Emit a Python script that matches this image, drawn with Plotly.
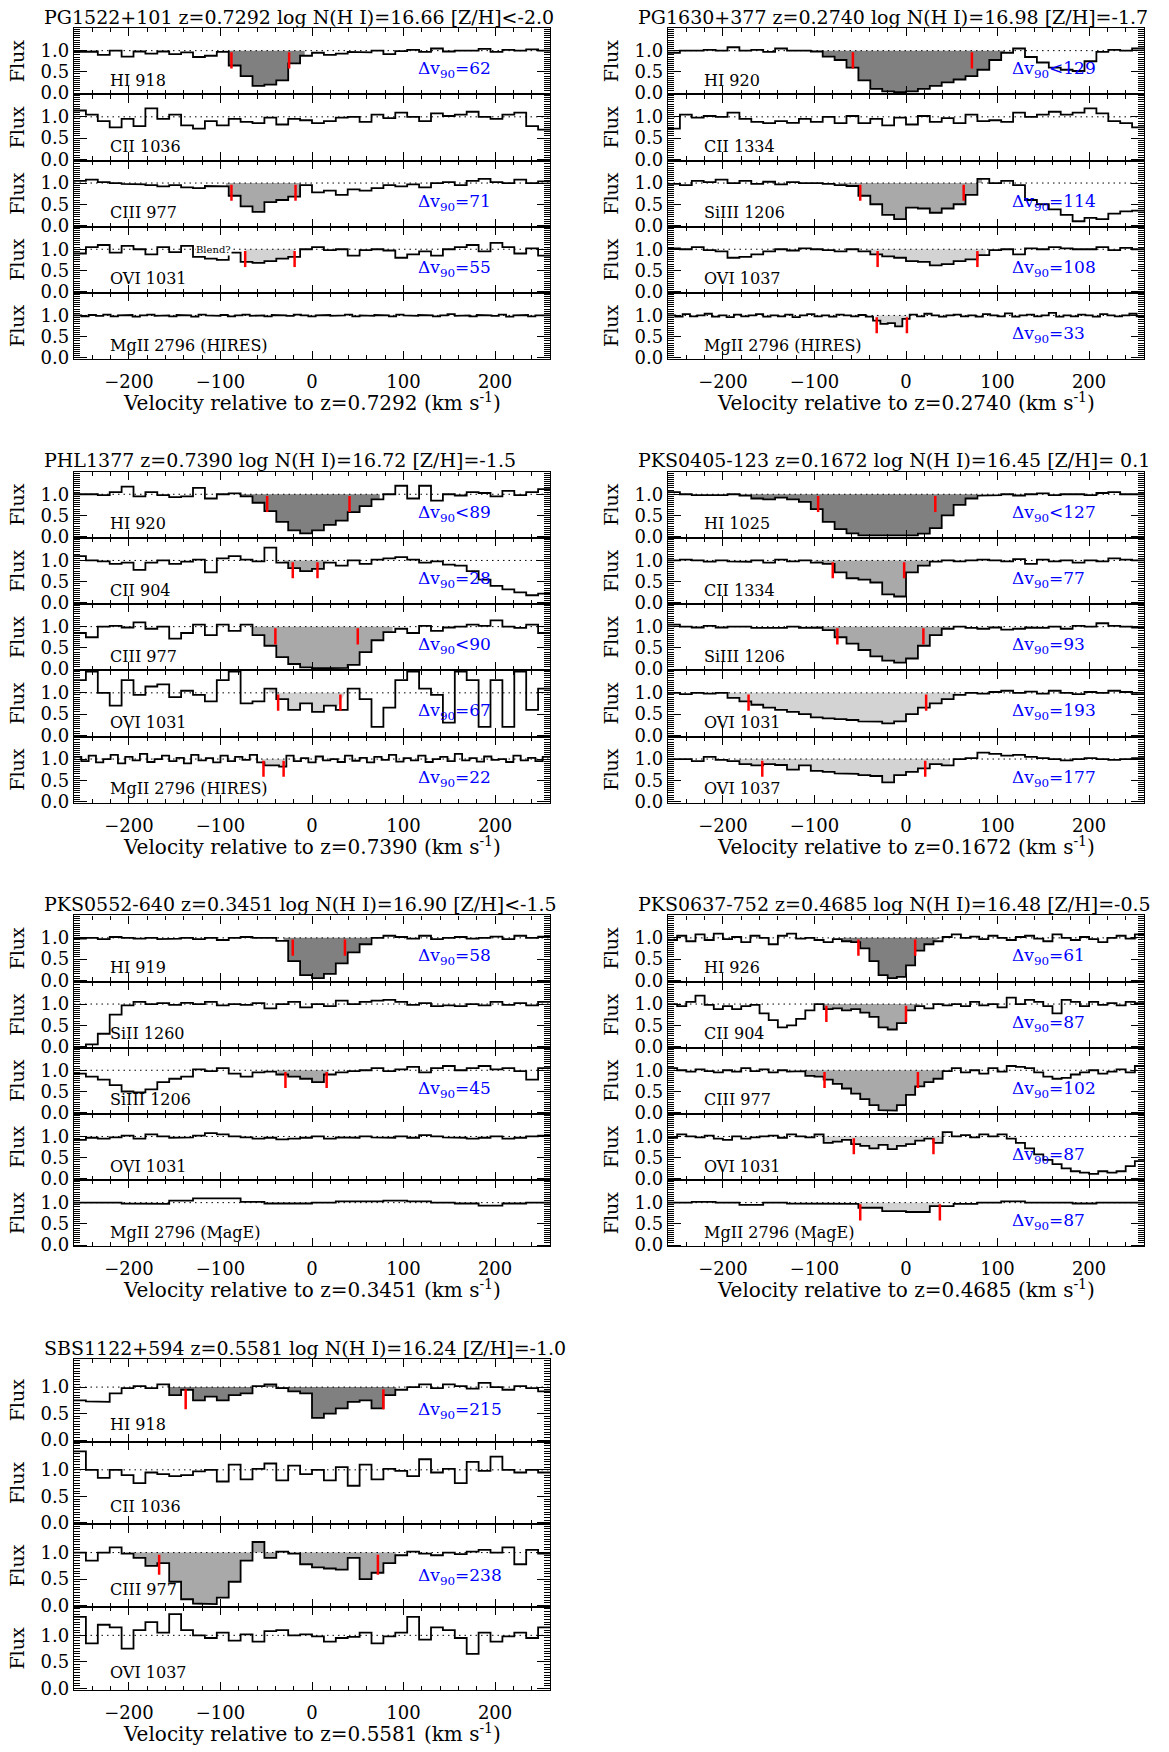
## velocity plots of the metal lines for the 7 LLS
import numpy as np
import plotly.graph_objects as go

### DATA (normalized flux, bins spread evenly over -260..260 km/s)

# PG1522+101
pg1522_hi918 = [0.97, 0.98, 0.9, 1.0, 0.86, 0.98, 0.93, 0.98, 0.92, 0.96, 0.85, 0.88,
                0.97, 0.65, 0.4, 0.17, 0.2, 0.3, 0.7, 0.88, 0.95,
                0.9, 0.93, 0.97, 0.96, 1.0, 0.92, 0.99, 1.02, 0.97, 1.05, 0.98, 1.0, 1.0, 1.04, 0.97, 1.02, 1.0, 1.03, 1.0]
pg1522_cii1036 = [1.15, 1.05, 0.9, 0.75, 0.95, 0.78, 1.2, 0.95, 1.05, 0.8, 0.72, 0.9, 0.8, 0.95, 0.88, 0.85, 0.98, 0.82, 0.95, 0.92,
                  0.85, 0.9, 0.98, 1.0, 0.88, 1.05, 0.97, 1.1, 1.0, 0.9, 1.08, 1.02, 1.05, 1.12, 1.0, 0.95, 1.05, 1.1, 0.78, 0.7]
pg1522_ciii977 = [1.05, 1.08, 1.02, 1.0, 0.98, 0.97, 0.95, 0.92, 0.95, 0.9, 0.88, 0.93,
                  0.92, 0.7, 0.45, 0.32, 0.55, 0.6, 0.68, 0.95, 0.78, 0.82, 0.72, 0.85, 0.82, 0.88, 0.95, 0.92, 0.97, 0.9,
                  1.0, 1.02, 0.95, 1.05, 1.1, 1.02, 1.0, 1.08, 1.0, 1.04]
pg1522_ovi1031 = [0.9, 1.05, 1.1, 0.92, 1.08, 1.0, 0.88, 1.05, 0.93, 1.08, 0.82, 0.78,
                  0.75, 0.92, 0.7, 0.68, 0.72, 0.78, 0.82, 1.0,
                  1.05, 0.98, 1.0, 0.85, 0.98, 1.0, 0.97, 0.8, 0.88, 0.95, 0.85, 1.0, 1.05, 1.1, 0.95, 1.15, 1.05, 0.9, 1.02, 0.85]
pg1522_mgii2796 = [1.0, 0.98, 1.01, 0.99, 1.02, 0.98, 1.0, 1.01, 0.97, 1.0,
                   1.02, 0.99, 1.0, 0.98, 1.01, 1.0, 0.97, 1.02, 1.0, 0.99,
                   1.01, 0.98, 1.0, 1.02, 0.99, 1.0, 0.98, 1.01, 1.0, 0.99,
                   1.02, 1.0, 0.98, 1.0, 1.01, 0.99, 1.0, 1.02, 0.98, 1.0,
                   0.99, 1.01, 1.0, 0.98, 1.02, 1.0, 0.99, 1.01, 1.0, 0.98,
                   1.0, 1.03, 0.99, 1.0, 0.98, 1.01, 1.0, 0.99, 1.02, 0.97,
                   1.0, 1.01, 0.98, 1.0, 1.0]
pg1522_labels = ["HI 918", "CII 1036", "CIII 977", "OVI 1031", "MgII 2796 (HIRES)"]
pg1522_windows = [[-97, -8], None, [-94, -12], [-73, -19], None]
pg1522_ticks = [[-88, -25], [], [-88, -18], [-73, -19], []]
pg1522_dv = ["=62", "", "=71", "=55", ""]

# PG1630+377
pg1630_hi920 = [0.95, 1.0, 1.0, 1.02, 1.0, 1.08, 1.0, 1.02, 0.97, 1.05, 1.0, 1.0,
                0.98, 0.86, 0.78, 0.6, 0.3, 0.1, 0.04, 0.02, 0.04, 0.1, 0.17, 0.25, 0.32, 0.4, 0.55, 0.78, 0.95, 1.05,
                0.85, 0.72, 0.6, 0.55, 0.52, 0.75, 0.97, 1.02, 1.0, 1.05]
pg1630_cii1334 = [0.72, 1.05, 0.98, 1.02, 1.0, 1.1, 0.95, 0.88, 0.85, 0.9, 0.86, 0.95, 0.88, 1.0, 0.85, 1.02, 0.85, 0.95, 0.8, 0.98,
                  0.82, 1.02, 0.88, 0.97, 0.85, 1.05, 0.9, 0.92, 0.88, 1.1, 1.0, 1.05, 1.12, 1.05, 1.1, 1.2, 1.08, 0.9, 0.85, 0.75]
pg1630_siiii1206 = [0.98, 0.95, 1.05, 1.02, 1.08, 1.0, 1.05, 0.98, 1.03, 0.97, 1.02, 1.0,
                    1.0, 0.98, 0.95, 0.93, 0.7, 0.5, 0.25, 0.15, 0.42, 0.4, 0.3, 0.4, 0.5, 0.72, 1.1, 1.0, 1.05, 0.95,
                    0.6, 0.5, 0.38, 0.25, 0.1, 0.18, 0.15, 0.28, 0.33, 0.35]
pg1630_ovi1037 = [1.02, 1.0, 1.05, 0.98, 0.95, 0.8, 0.82, 0.88, 0.95, 1.0, 0.97, 1.02,
                  1.0, 0.98, 0.95, 1.0, 0.95, 0.88, 0.83, 0.8, 0.72, 0.7, 0.62, 0.65, 0.72, 0.76, 0.86, 0.98, 1.0, 0.88,
                  1.02, 1.0, 1.05, 1.02, 1.0, 1.0, 1.05, 0.98, 1.03, 1.0]
pg1630_mgii2796 = [1.0, 0.97, 1.03, 0.98, 1.0, 1.04, 0.97, 1.0, 0.96, 1.02,
                   0.98, 1.0, 1.03, 0.97, 1.0, 0.98, 1.02, 0.96, 1.0, 1.03,
                   0.98, 1.0, 0.97, 1.02, 1.0, 0.98, 1.01, 0.97, 0.88, 0.8,
                   0.82, 0.74, 0.92, 1.02, 0.98, 1.04, 1.0, 0.97, 1.0, 1.02,
                   0.98, 1.0, 0.97, 1.03, 1.0, 0.98, 1.05, 0.97, 1.0, 1.02,
                   0.98, 1.0, 1.06, 0.97, 1.0, 0.98, 1.02, 1.0, 0.97, 1.03,
                   1.0, 0.98, 1.0, 1.04, 0.98]
pg1630_labels = ["HI 920", "CII 1334", "SiIII 1206", "OVI 1037", "MgII 2796 (HIRES)"]
pg1630_windows = [[-93, 108], None, [-73, 83], [-44, 87], [-33, 2]]
pg1630_ticks = [[-58, 72], [], [-50, 63], [-31, 78], [-32, 1]]
pg1630_dv = ["&lt;129", "", "=114", "=108", "=33"]

# PHL1377
phl1377_hi920 = [1.0, 1.0, 0.98, 1.05, 1.18, 0.95, 1.05, 0.98, 0.93, 0.95,
                 1.15, 0.9, 1.0, 1.02, 0.95, 0.8, 0.6, 0.35, 0.15, 0.08,
                 0.15, 0.28, 0.38, 0.58, 0.72, 0.88, 1.0, 1.2, 0.9, 1.2,
                 0.85, 1.0, 0.97, 1.05, 1.03, 0.95, 1.08, 0.98, 1.05, 1.12]
phl1377_cii904 = [1.1, 1.0, 0.98, 0.92, 0.95, 0.78, 0.95, 1.0, 0.92, 0.97,
                  1.02, 0.72, 1.05, 1.1, 1.02, 0.98, 1.3, 0.95, 0.82, 0.75,
                  0.8, 0.95, 0.88, 1.0, 0.92, 1.02, 1.05, 1.08, 1.02, 0.95,
                  0.98, 0.9, 0.88, 0.75, 0.55, 0.4, 0.32, 0.25, 0.18, 0.22]
phl1377_ciii977 = [0.85, 0.75, 1.0, 1.02, 0.98, 1.1, 0.95, 1.0, 0.72, 0.85,
                   1.05, 0.8, 1.05, 0.9, 1.05, 0.8, 0.55, 0.28, 0.12, 0.04,
                   0.02, 0.02, 0.03, 0.1, 0.4, 0.68, 0.87, 0.95, 0.85, 1.02,
                   0.9, 0.98, 1.0, 1.05, 1.02, 1.15, 1.0, 0.97, 1.05, 0.85]
phl1377_ovi1031 = [1.3, 1.5, 1.0, 0.7, 1.3, 0.95, 1.15, 1.2, 0.9, 1.05,
                   0.95, 0.8, 1.3, 1.5, 0.75, 0.8, 1.1, 0.85, 0.6, 0.75,
                   0.55, 0.7, 0.6, 1.1, 0.85, 0.2, 0.65, 1.3, 1.5, 1.1,
                   0.95, 0.3, 1.5, 1.3, 0.2, 1.3, 0.2, 1.5, 0.6, 1.1]
phl1377_mgii2796 = [1.05, 0.95, 1.08, 0.92, 1.0, 1.1, 0.9, 1.05, 0.97, 1.12,
                    0.93, 1.0, 1.08, 0.95, 1.03, 0.9, 1.1, 0.97, 1.02, 0.92,
                    1.08, 0.95, 1.05, 0.98, 1.1, 0.92, 0.85, 0.85, 0.82, 1.08,
                    0.95, 1.02, 0.92, 1.06, 0.97, 1.0, 0.93, 1.08, 0.96, 1.03,
                    0.92, 1.05, 0.98, 1.1, 0.94, 1.02, 0.97, 1.08, 0.93, 1.0,
                    1.05, 0.95, 1.12, 0.97, 1.02, 0.94, 1.06, 0.98, 1.0, 0.93,
                    1.08, 0.97, 1.03, 0.95, 1.05]
phl1377_labels = ["HI 920", "CII 904", "CIII 977", "OVI 1031", "MgII 2796 (HIRES)"]
phl1377_windows = [[-81, 74], [-31, 16], [-64, 88], [-47, 39], [-55, -30]]
phl1377_ticks = [[-49, 41], [-21, 6], [-40, 50], [-37, 31], [-53, -31]]
phl1377_dv = ["&lt;89", "=28", "&lt;90", "=67", "=22"]

# PKS0405-123
pks0405_hi1025 = [1.05, 1.0, 0.98, 0.97, 0.98, 1.0, 0.97, 0.9, 0.88, 0.92,
                  0.88, 0.82, 0.65, 0.35, 0.18, 0.08, 0.03, 0.02, 0.02, 0.02,
                  0.03, 0.07, 0.2, 0.5, 0.75, 0.9, 0.97, 0.98, 1.0, 0.97,
                  1.0, 1.02, 0.98, 1.0, 1.0, 0.98, 1.03, 1.05, 1.0, 1.0]
pks0405_cii1334 = [1.0, 1.02, 1.0, 0.97, 1.0, 0.98, 0.97, 1.0, 0.95, 1.02, 0.98, 1.0,
                   0.95, 0.92, 0.72, 0.58, 0.55, 0.48, 0.2, 0.15, 0.72, 0.88, 0.97, 1.0,
                   0.98, 1.0, 1.02, 1.0, 0.98, 1.03, 0.92, 1.02, 0.98, 1.0, 0.95, 1.0, 0.98, 1.05, 1.02, 1.0]
pks0405_siiii1206 = [1.05, 1.0, 0.98, 1.02, 0.98, 1.0, 1.0, 0.97, 0.98, 0.97, 1.0, 0.97,
                     0.98, 0.92, 0.75, 0.6, 0.45, 0.3, 0.2, 0.15, 0.25, 0.55, 0.8, 0.95,
                     1.0, 0.97, 0.95, 0.98, 0.93, 0.95, 0.98, 0.97, 1.0, 0.95, 1.02, 1.0, 1.08, 1.02, 1.0, 0.98]
pks0405_ovi1031 = [1.0, 0.97, 1.0, 0.98, 1.0, 0.88, 0.8, 0.72, 0.65, 0.6,
                   0.55, 0.5, 0.42, 0.4, 0.38, 0.36, 0.33, 0.32, 0.28, 0.33,
                   0.5, 0.65, 0.75, 0.85, 0.95, 1.0, 0.98, 1.02, 1.05, 1.0,
                   1.03, 0.98, 1.05, 1.0, 0.97, 1.02, 1.0, 1.05, 1.02, 0.97]
pks0405_ovi1037 = [1.0, 1.0, 0.95, 1.05, 0.98, 0.95, 0.88, 0.85, 0.88, 0.86,
                   0.75, 0.85, 0.72, 0.7, 0.66, 0.65, 0.62, 0.6, 0.45, 0.62,
                   0.7, 0.78, 0.88, 0.85, 1.0, 1.02, 1.15, 1.12, 1.08, 1.1,
                   1.05, 1.02, 1.0, 0.97, 1.0, 1.02, 1.0, 0.98, 1.0, 1.02]
pks0405_labels = ["HI 1025", "CII 1334", "SiIII 1206", "OVI 1031", "OVI 1037"]
pks0405_windows = [[-168, 77], [-100, 30], [-90, 48], [-198, 58], [-186, 48]]
pks0405_ticks = [[-96, 32], [-80, -2], [-75, 19], [-172, 22], [-157, 21]]
pks0405_dv = ["&lt;127", "=77", "=93", "=193", "=177"]

# PKS0552-640
pks0552_hi919 = [0.98, 1.0, 0.97, 1.02, 1.0, 0.98, 1.0, 0.97, 0.98, 1.0,
                 0.97, 1.0, 0.95, 1.0, 1.02, 1.0, 1.0, 0.93, 0.45, 0.12,
                 0.05, 0.15, 0.4, 0.66, 0.85, 1.0, 1.05, 1.02, 0.98, 1.05,
                 0.97, 1.0, 1.02, 0.98, 1.0, 1.03, 0.97, 1.05, 1.0, 1.03]
pks0552_siii1260 = [-0.02, 0.05, 0.3, 0.75, 0.97, 1.05, 1.0, 1.02, 0.98, 1.03,
                    1.0, 1.05, 0.97, 1.0, 0.98, 1.02, 0.9, 1.0, 1.05, 0.92,
                    1.0, 0.95, 1.08, 1.0, 1.05, 1.08, 1.1, 1.05, 0.98, 1.02,
                    0.95, 0.97, 0.95, 1.0, 0.97, 1.05, 0.98, 1.02, 0.97, 1.05]
pks0552_siiii1206 = [0.92, 0.85, 0.78, 0.65, 0.5, 0.48, 0.55, 0.72, 0.8, 0.85,
                     1.02, 0.98, 1.05, 0.92, 0.85, 0.95, 0.97, 0.9, 0.85, 0.8,
                     0.72, 0.9, 0.95, 0.98, 1.0, 1.05, 0.98, 1.02, 1.08, 0.95,
                     1.05, 1.1, 1.0, 1.05, 1.1, 1.02, 1.05, 0.98, 0.78, 1.05]
pks0552_ovi1031 = [0.92, 0.97, 0.95, 0.98, 1.02, 0.95, 1.05, 1.0, 0.97, 0.98,
                   1.02, 1.08, 1.05, 1.0, 0.98, 0.95, 0.97, 0.93, 0.95, 0.97,
                   1.0, 0.95, 0.98, 0.97, 1.0, 0.98, 0.97, 1.0, 0.97, 1.03,
                   1.0, 0.98, 0.97, 0.95, 0.97, 1.0, 0.95, 0.97, 1.0, 1.02]
pks0552_mgii2796 = [1.0, 1.0, 0.98, 0.97, 1.05, 1.1, 1.1, 1.02, 0.98, 0.98,
                    1.0, 1.03, 1.03, 1.05, 1.03, 1.0, 0.98, 0.93, 0.98, 1.0]
pks0552_labels = ["HI 919", "SiII 1260", "SiIII 1206", "OVI 1031", "MgII 2796 (MagE)"]
pks0552_windows = [[-31, 64], None, [-37, 18], None, None]
pks0552_ticks = [[-21, 36], [], [-29, 16], [], []]
pks0552_dv = ["=58", "", "=45", "", ""]

# PKS0637-752
pks0637_hi926 = [0.95, 1.05, 0.92, 1.08, 0.95, 1.1, 0.97, 1.02, 0.9, 1.05,
                 1.0, 0.85, 1.05, 1.1, 0.98, 1.0, 0.95, 0.9, 0.97, 0.92,
                 0.9, 0.75, 0.45, 0.12, 0.05, 0.08, 0.35, 0.7, 0.85, 0.92,
                 1.02, 1.08, 1.0, 1.03, 0.97, 1.05, 1.0, 0.95, 1.02, 1.05,
                 0.98, 0.92, 1.08, 1.0, 0.95, 1.02, 0.97, 0.9, 1.0, 1.05,
                 0.98, 1.08]
pks0637_cii904 = [1.0, 0.95, 1.05, 1.2, 0.98, 0.88, 0.95, 0.88, 0.95, 0.98,
                  0.78, 0.62, 0.45, 0.5, 0.65, 0.85, 1.0, 0.88, 0.9, 0.85,
                  0.88, 0.8, 0.7, 0.45, 0.4, 0.55, 0.85, 0.95, 0.9, 1.0,
                  0.97, 1.0, 0.95, 1.05, 0.97, 1.0, 0.92, 1.15, 1.0, 1.1,
                  1.05, 0.95, 0.78, 1.1, 1.05, 0.95, 1.05, 0.98, 1.02, 0.97,
                  1.05, 1.02]
pks0637_ciii977 = [1.05, 1.0, 0.97, 1.02, 0.98, 0.95, 1.0, 0.97, 1.05, 0.98,
                   1.02, 0.95, 1.0, 0.97, 0.98, 0.87, 0.85, 0.78, 0.68, 0.57,
                   0.45, 0.32, 0.18, 0.06, 0.05, 0.18, 0.42, 0.62, 0.72, 0.8,
                   0.98, 1.05, 0.95, 1.0, 0.92, 1.05, 0.97, 1.1, 1.08, 1.05,
                   0.95, 0.85, 0.8, 0.82, 0.9, 0.95, 1.0, 0.92, 0.97, 1.02,
                   0.95, 1.1]
pks0637_ovi1031 = [0.97, 1.05, 1.0, 0.98, 1.02, 0.95, 0.92, 1.0, 0.95, 0.98,
                   1.0, 1.02, 0.97, 1.05, 1.0, 0.98, 1.05, 0.85, 0.88, 0.92,
                   0.82, 0.78, 0.72, 0.8, 0.7, 0.78, 0.82, 0.9, 0.95, 0.85,
                   1.1, 1.0, 1.03, 0.98, 1.05, 1.0, 1.05, 0.95, 0.85, 0.72,
                   0.58, 0.45, 0.35, 0.25, 0.18, 0.15, 0.12, 0.18, 0.15, 0.18,
                   0.3, 0.42]
pks0637_mgii2796 = [1.0, 1.02, 1.0, 0.95, 1.0, 0.98, 0.97, 0.97, 0.88, 0.8,
                    0.78, 0.92, 0.97, 1.0, 1.03, 1.0, 1.0, 0.98, 1.0, 1.0]
pks0637_labels = ["HI 926", "CII 904", "CIII 977", "OVI 1031", "MgII 2796 (MagE)"]
pks0637_windows = [[-69, 40], [-93, 15], [-110, 42], [-106, 44], [-52, 38]]
pks0637_ticks = [[-52, 10], [-87, 0], [-89, 13], [-57, 30], [-50, 37]]
pks0637_dv = ["=61", "=87", "=102", "=87", "=87"]

# SBS1122+594
sbs1122_hi918 = [0.75, 0.73, 0.72, 0.88, 0.98, 1.02, 0.98, 1.05, 0.85, 0.95,
                 0.75, 0.82, 0.75, 0.85, 0.88, 1.02, 1.05, 0.98, 0.92, 0.88,
                 0.42, 0.5, 0.6, 0.72, 0.75, 0.6, 0.85, 0.95, 1.0, 1.05,
                 0.98, 1.05, 1.02, 0.97, 1.08, 1.0, 0.95, 1.02, 0.98, 0.92]
sbs1122_cii1036 = [1.35, 1.0, 0.85, 1.0, 0.9, 0.75, 0.95, 0.92, 0.88, 0.9,
                   0.97, 1.0, 0.78, 1.1, 0.82, 1.02, 1.12, 0.8, 1.08, 0.92,
                   1.0, 0.8, 1.05, 0.7, 1.1, 0.82, 1.02, 0.98, 0.88, 1.2,
                   0.95, 1.02, 0.75, 1.15, 0.98, 1.25, 1.0, 0.95, 1.0, 0.95]
sbs1122_ciii977 = [1.0, 0.85, 1.0, 1.1, 0.98, 0.9, 0.75, 0.8, 0.45, 0.12,
                   0.04, 0.03, 0.15, 0.45, 0.85, 1.2, 0.9, 1.02, 0.98, 0.78,
                   0.72, 0.7, 0.68, 0.9, 0.5, 0.62, 0.8, 0.95, 1.02, 0.98,
                   0.95, 1.0, 0.97, 1.02, 1.05, 1.0, 1.1, 0.78, 1.05, 0.98]
sbs1122_ovi1037 = [1.35, 0.85, 1.2, 1.15, 0.75, 1.1, 1.25, 1.05, 1.4, 1.1,
                   1.0, 0.95, 1.05, 0.9, 1.02, 0.88, 1.08, 1.1, 1.0, 1.02,
                   0.98, 0.88, 0.95, 0.97, 1.05, 0.85, 0.98, 1.05, 1.35, 0.92,
                   1.15, 1.1, 0.95, 0.65, 1.05, 0.88, 0.98, 1.05, 0.95, 1.15]
sbs1122_labels = ["HI 918", "CII 1036", "CIII 977", "OVI 1037"]
sbs1122_windows = [[-158, 92], None, [-203, 92], None]
sbs1122_ticks = [[-138, 78], [], [-167, 72], []]
sbs1122_dv = ["=215", "", "=238", ""]

panels = [
    dict(name="PG1522+101", z="0.7292", nhi="16.66", zh="&lt;-2.0", col=0, row=0,
         spectra=[pg1522_hi918, pg1522_cii1036, pg1522_ciii977, pg1522_ovi1031, pg1522_mgii2796],
         labels=pg1522_labels, windows=pg1522_windows, ticks=pg1522_ticks, dv=pg1522_dv),
    dict(name="PG1630+377", z="0.2740", nhi="16.98", zh="=-1.7", col=1, row=0,
         spectra=[pg1630_hi920, pg1630_cii1334, pg1630_siiii1206, pg1630_ovi1037, pg1630_mgii2796],
         labels=pg1630_labels, windows=pg1630_windows, ticks=pg1630_ticks, dv=pg1630_dv),
    dict(name="PHL1377", z="0.7390", nhi="16.72", zh="=-1.5", col=0, row=1,
         spectra=[phl1377_hi920, phl1377_cii904, phl1377_ciii977, phl1377_ovi1031, phl1377_mgii2796],
         labels=phl1377_labels, windows=phl1377_windows, ticks=phl1377_ticks, dv=phl1377_dv),
    dict(name="PKS0405-123", z="0.1672", nhi="16.45", zh="= 0.1", col=1, row=1,
         spectra=[pks0405_hi1025, pks0405_cii1334, pks0405_siiii1206, pks0405_ovi1031, pks0405_ovi1037],
         labels=pks0405_labels, windows=pks0405_windows, ticks=pks0405_ticks, dv=pks0405_dv),
    dict(name="PKS0552-640", z="0.3451", nhi="16.90", zh="&lt;-1.5", col=0, row=2,
         spectra=[pks0552_hi919, pks0552_siii1260, pks0552_siiii1206, pks0552_ovi1031, pks0552_mgii2796],
         labels=pks0552_labels, windows=pks0552_windows, ticks=pks0552_ticks, dv=pks0552_dv),
    dict(name="PKS0637-752", z="0.4685", nhi="16.48", zh="=-0.5", col=1, row=2,
         spectra=[pks0637_hi926, pks0637_cii904, pks0637_ciii977, pks0637_ovi1031, pks0637_mgii2796],
         labels=pks0637_labels, windows=pks0637_windows, ticks=pks0637_ticks, dv=pks0637_dv),
    dict(name="SBS1122+594", z="0.5581", nhi="16.24", zh="=-1.0", col=0, row=3,
         spectra=[sbs1122_hi918, sbs1122_cii1036, sbs1122_ciii977, sbs1122_ovi1037],
         labels=sbs1122_labels, windows=sbs1122_windows, ticks=sbs1122_ticks, dv=sbs1122_dv),
]

### layout (pixels of the 1169x1752 page)
W, H = 1169, 1752
VMIN, VMAX = -260, 260
YMIN, YMAX = -0.03, 1.53
FONT = "DejaVu Serif"
col_x = [(74, 550), (668, 1144)]
flux_x = [17, 611]
row_top = [28.3, 474.2, 920.1, 1366.0]
panel_h = 332.7


def steps(flux):
    f = np.asarray(flux, float)
    dv = (VMAX - VMIN) / len(f)
    edges = VMIN + dv * np.arange(len(f) + 1)
    return np.repeat(edges, 2)[1:-1], np.repeat(f, 2), dv


def shade_color(label):
    if label.startswith("HI"):
        return "#808080"
    if label.startswith("OVI") or label.startswith("MgII"):
        return "#d3d3d3"
    return "#a9a9a9"


fig = go.Figure()
axes = {}
ann = []
k = 0
for p in panels:
    x0, x1 = col_x[p["col"]]
    top = row_top[p["row"]]
    nsub = len(p["spectra"])
    sub_h = panel_h / nsub
    for j, flux in enumerate(p["spectra"]):
        k += 1
        xn = "x" if k == 1 else "x%d" % k
        yn = "y" if k == 1 else "y%d" % k
        yt = top + j * sub_h
        yb = yt + sub_h
        last = (j == nsub - 1)
        xs, ys, dv = steps(flux)
        f = np.asarray(flux, float)

        # shaded absorption
        win = p["windows"][j]
        if win is not None:
            w0, w1 = win
            def val(v):
                return f[min(len(f) - 1, max(0, int((v - VMIN) // dv)))]
            m = (xs > w0) & (xs < w1)
            px = [w0] + list(xs[m]) + [w1, w1, w0]
            py = [val(w0)] + list(ys[m]) + [val(w1), 1.0, 1.0]
            fig.add_trace(go.Scatter(x=px, y=py, xaxis=xn, yaxis=yn, mode="lines", fill="toself",
                                     fillcolor=shade_color(p["labels"][j]), line=dict(width=0),
                                     hoverinfo="skip"))
        # continuum
        fig.add_trace(go.Scatter(x=[VMIN, VMAX], y=[1, 1], xaxis=xn, yaxis=yn, mode="lines",
                                 line=dict(color="black", width=1, dash="1.5px,4px"), hoverinfo="skip"))
        # spectrum
        fig.add_trace(go.Scatter(x=xs, y=ys, xaxis=xn, yaxis=yn, mode="lines",
                                 line=dict(color="black", width=1.8)))
        # red velocity limits
        tx, ty = [], []
        for v in p["ticks"][j]:
            tx += [v, v, None]
            ty += [0.58, 0.96, None]
        if tx:
            fig.add_trace(go.Scatter(x=tx, y=ty, xaxis=xn, yaxis=yn, mode="lines",
                                     line=dict(color="red", width=2.5)))

        axes["xaxis" if k == 1 else "xaxis%d" % k] = dict(
            domain=[x0 / W, x1 / W], anchor=yn, range=[VMIN, VMAX],
            showline=True, linecolor="black", linewidth=1.3, mirror="ticks",
            ticks="inside", tickmode="linear", tick0=0, dtick=100, ticklen=8, tickwidth=1.3,
            tickcolor="black", minor=dict(ticks="inside", dtick=20, ticklen=4, tickwidth=1, tickcolor="black"),
            showticklabels=last, tickfont=dict(family=FONT, size=18, color="black"),
            ticklabelstandoff=6, showgrid=False, zeroline=False)
        axes["yaxis" if k == 1 else "yaxis%d" % k] = dict(
            domain=[1 - yb / H, 1 - yt / H], anchor=xn, range=[YMIN, YMAX],
            showline=True, linecolor="black", linewidth=1.3, mirror="ticks",
            ticks="inside", tickmode="array", tickvals=[0, 0.5, 1.0], ticktext=["0.0", "0.5", "1.0"],
            ticklen=13, tickwidth=1.2, tickcolor="black",
            minor=dict(ticks="inside", tickmode="linear", tick0=0, dtick=0.05, ticklen=6,
                       tickwidth=1, tickcolor="black"),
            tickfont=dict(family=FONT, size=18, color="black"), showgrid=False, zeroline=False)

        # text
        ann.append(dict(x=flux_x[p["col"]] / W, y=1 - (yt + yb) / 2 / H, xref="paper", yref="paper",
                        text="Flux", textangle=-90, showarrow=False, xanchor="center", yanchor="middle",
                        font=dict(family=FONT, size=19, color="black")))
        ann.append(dict(x=-223, y=0.3, xref=xn, yref=yn, text=p["labels"][j], xanchor="left",
                        yanchor="middle", showarrow=False, font=dict(family=FONT, size=16, color="black")))
        if p["dv"][j]:
            ann.append(dict(x=114, y=0.55, xref=xn, yref=yn, text="Δv<sub>90</sub>" + p["dv"][j],
                            xanchor="left", yanchor="middle", showarrow=False,
                            font=dict(family=FONT, size=17, color="#0000ff")))
        if p["name"] == "PG1522+101" and j == 3:
            ann.append(dict(x=-108, y=1.0, xref=xn, yref=yn, text="Blend?", showarrow=False,
                            xanchor="center", yanchor="middle", bgcolor="white", borderpad=0,
                            font=dict(family=FONT, size=10, color="black")))

    bottom = top + panel_h
    ann.append(dict(x=(x0 - 32) / W, y=1 - (top - 11.5) / H, xref="paper", yref="paper",
                    text="%s z=%s log N(H I)=%s [Z/H]%s" % (p["name"], p["z"], p["nhi"], p["zh"]),
                    xanchor="left", yanchor="middle", showarrow=False,
                    font=dict(family=FONT, size=19, color="black")))
    ann.append(dict(x=(x0 + x1) / 2 / W, y=1 - (bottom + 43) / H, xref="paper", yref="paper",
                    text="Velocity relative to z=%s (km s<sup>-1</sup>)" % p["z"],
                    xanchor="center", yanchor="middle", showarrow=False,
                    font=dict(family=FONT, size=20, color="black")))

fig.update_layout(width=W, height=H, margin=dict(l=0, r=0, t=0, b=0),
                  paper_bgcolor="white", plot_bgcolor="white", showlegend=False,
                  annotations=ann, **axes)
# page body has an 8px default margin: drop it so the figure sits at the page corner
fig.write_html("out.html", config={"displayModeBar": False},
               post_script="document.body.style.margin='0px';")
